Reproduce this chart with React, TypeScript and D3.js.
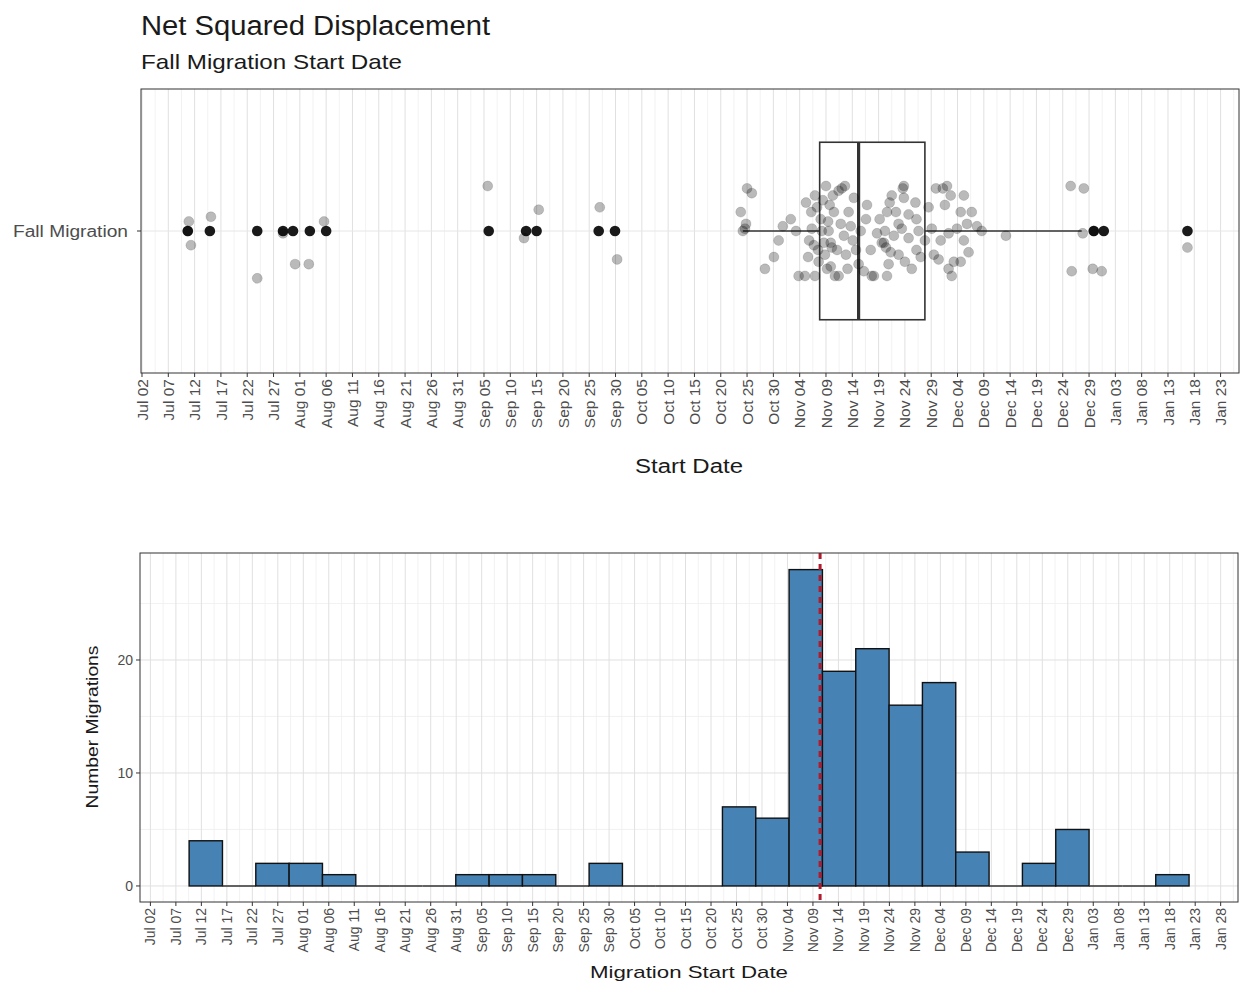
import React from "react";
import * as d3 from "d3";

// ---------------- DATA ----------------
// All days are "days after Jul 02" of the migration season.
// Jittered observations: [day, vertical jitter (category units)]
const jitterPoints: [number, number][] = [
  [8.9, 0.04], [8.7, 0.0], [9.3, -0.06], [13.1, 0.06], [21.9, -0.2], [26.8, -0.01], [29.1, -0.14],
  [31.7, -0.14], [34.6, 0.04], [65.7, 0.19], [72.6, -0.03], [75.4, 0.09], [87.0, 0.1], [90.3, -0.12],
  [115.0, 0.18], [115.9, 0.16], [113.8, 0.08], [114.8, 0.03], [114.2, 0.0], [114.6, 0.01], [118.4, -0.16],
  [120.1, -0.11], [121.8, 0.02], [123.3, 0.05], [124.8, -0.19], [124.3, 0.0], [121.0, -0.04],
  [126.0, -0.19], [126.2, 0.12], [127.2, 0.08], [127.9, 0.15], [129.4, 0.13], [127.9, -0.19], [128.5, -0.08],
  [130.5, 0.0], [130.9, -0.05], [130.9, -0.15], [131.5, 0.08], [129.0, 0.05], [130.0, 0.19], [126.8, -0.04],
  [127.3, 0.01], [128.6, -0.13], [129.8, -0.1], [130.4, 0.04], [131.3, 0.15], [129.2, 0.0], [128.3, 0.1],
  [130.2, -0.16], [131.1, -0.07], [126.6, -0.11], [127.7, -0.06], [131.7, -0.19], [129.6, -0.05], [130.7, 0.11],
  [132.4, 0.17], [133.0, 0.18], [133.6, 0.19], [132.1, -0.08], [133.8, -0.1], [132.4, -0.19], [134.7, 0.02],
  [135.1, -0.04], [132.8, 0.03], [136.2, -0.14], [137.2, -0.17], [137.8, 0.11], [137.6, 0.05], [133.4, -0.02],
  [134.3, 0.08], [135.7, -0.08], [136.6, 0.0], [134.1, -0.16], [135.3, 0.14],
  [138.7, -0.19], [141.6, -0.19], [141.0, -0.05], [141.4, -0.07], [142.3, -0.09], [143.8, -0.1], [142.5, 0.15],
  [142.1, 0.12], [141.6, 0.08], [143.8, 0.03], [144.4, 0.01], [142.9, -0.02], [140.6, -0.05], [139.1, -0.19],
  [139.7, -0.01], [141.9, -0.14], [143.3, 0.08], [140.2, 0.05], [144.6, 0.18], [138.5, -0.08], [141.2, 0.0],
  [144.8, 0.14], [144.8, 0.19], [147.0, 0.12], [145.7, -0.03], [147.2, 0.05], [147.6, 0.0], [145.0, -0.13],
  [146.3, -0.16], [147.2, -0.08], [148.0, -0.11], [149.5, 0.1], [150.9, 0.18], [148.8, -0.04], [150.1, 0.01],
  [145.7, 0.07], [150.5, -0.1],
  [153.0, 0.19], [153.7, 0.15], [156.2, 0.15], [155.6, 0.08], [157.7, 0.08], [151.8, -0.04], [153.3, -0.01],
  [156.2, -0.04], [157.1, -0.09], [151.4, -0.12], [154.3, -0.13], [153.3, -0.16], [153.9, -0.19], [155.6, -0.13],
  [152.2, 0.18], [154.9, 0.01], [156.8, 0.03], [152.6, 0.11],
  [158.7, 0.02], [159.6, 0.0], [164.2, -0.02],
  [176.5, 0.19], [179.0, 0.18], [178.8, -0.01], [176.7, -0.17], [180.7, -0.16], [182.4, -0.17], [180.9, 0.0],
  [198.7, -0.07],
];
// Boxplot statistics: lower whisker, Q1, median, Q3, upper whisker
const boxStats = [114.2, 128.8, 136.2, 148.8, 178.6];
const outlierDays = [8.7, 12.9, 21.9, 26.8, 28.7, 31.9, 35.0, 65.9, 73.0, 75.0, 86.8, 89.9, 180.9, 182.8, 198.7];
const categoryLabel = "Fall Migration";

// Histogram (30 bins)
const binCounts = [4, 0, 2, 2, 1, 0, 0, 0, 1, 1, 1, 0, 2, 0, 0, 0, 7, 6, 28, 19, 21, 16, 18, 3, 0, 2, 5, 0, 0, 1];
const binStartDay = 7.6;
const binWidthDays = 6.54;
const meanDay = 131.4;
const yTicksBottom = [0, 10, 20];

// Tick sets (days after Jul 02, every 5 days)
const topTickDays = d3.range(0, 206, 5);
const bottomTickDays = d3.range(0, 211, 5);

// ---------------- HELPERS ----------------
const BASE = Date.UTC(2019, 6, 2);
const toDate = (d: number) => new Date(BASE + d * 86400000);
const fmt = d3.utcFormat("%b %d");
const FONT = "'Liberation Sans', Arial, Helvetica, sans-serif";

export default function App() {
  const W = 1241, H = 984;

  // Top panel
  const T = { l: 141, r: 1239, t: 89, b: 373 };
  const xT = d3.scaleUtc().domain([toDate(-0.19), toDate(208.5)]).range([T.l, T.r]);
  const yT = d3.scaleLinear().domain([0.4, 1.6]).range([T.b, T.t]);

  // Bottom panel
  const B = { l: 140, r: 1238, t: 553, b: 902 };
  const xB = d3.scaleUtc().domain([toDate(-2.04), toDate(213.4)]).range([B.l, B.r]);
  const yB = d3.scaleLinear().domain([-1.42, 29.47]).range([B.b, B.t]);

  const minorDays = (ticks: number[]) => ticks.map((d) => d + 2.5);
  const [lo, q1, med, q3, hi] = boxStats;
  const yc = yT(1);

  return (
    <svg width={W} height={H} style={{ position: "absolute", left: 0, top: 0, background: "#fff" }} fontFamily={FONT}>
      <rect x={0} y={0} width={W} height={H} fill="#fff" />
      {/* Titles */}
      <text x={141} y={35} fontSize={27} fill="#1a1a1a" textLength={349} lengthAdjust="spacingAndGlyphs">Net Squared Displacement</text>
      <text x={141} y={69} fontSize={21} fill="#1a1a1a" textLength={261} lengthAdjust="spacingAndGlyphs">Fall Migration Start Date</text>

      {/* ---------- TOP PANEL ---------- */}
      <g>
        {[-2.5, ...minorDays(topTickDays)].map((d, i) => {
          const x = xT(toDate(d));
          if (x < T.l || x > T.r) return null;
          return <line key={"tm" + i} x1={x} x2={x} y1={T.t} y2={T.b} stroke="#efefef" strokeWidth={0.8} />;
        })}
        {topTickDays.map((d, i) => (
          <line key={"tg" + i} x1={xT(toDate(d))} x2={xT(toDate(d))} y1={T.t} y2={T.b} stroke="#e0e0e0" strokeWidth={1} />
        ))}
        <line x1={T.l} x2={T.r} y1={yc} y2={yc} stroke="#e6e6e6" strokeWidth={1} />

        {/* whiskers */}
        <line x1={xT(toDate(lo))} x2={xT(toDate(q1))} y1={yc} y2={yc} stroke="#333" strokeWidth={1.6} />
        <line x1={xT(toDate(q3))} x2={xT(toDate(hi))} y1={yc} y2={yc} stroke="#333" strokeWidth={1.6} />
        {/* box */}
        <rect x={xT(toDate(q1))} y={yT(1.375)} width={xT(toDate(q3)) - xT(toDate(q1))} height={yT(0.625) - yT(1.375)}
          fill="#fff" stroke="#333" strokeWidth={1.6} />
        <line x1={xT(toDate(med))} x2={xT(toDate(med))} y1={yT(1.375)} y2={yT(0.625)} stroke="#333" strokeWidth={3.2} />
        {/* outliers */}
        {outlierDays.map((d, i) => (
          <circle key={"o" + i} cx={xT(toDate(d))} cy={yc} r={5.3} fill="#1a1a1a" />
        ))}
        {/* jitter */}
        {jitterPoints.map(([d, j], i) => (
          <circle key={"j" + i} cx={xT(toDate(d))} cy={yT(1 + j)} r={5} fill="#000" fillOpacity={0.27}
            stroke="#000" strokeOpacity={0.12} strokeWidth={1} />
        ))}
        <rect x={T.l} y={T.t} width={T.r - T.l} height={T.b - T.t} fill="none" stroke="#333" strokeWidth={1} />

        {/* y axis */}
        <line x1={T.l - 4} x2={T.l} y1={yc} y2={yc} stroke="#333" />
        <text x={T.l - 13} y={yc} dy="0.35em" textAnchor="end" fontSize={16} fill="#4d4d4d" textLength={115} lengthAdjust="spacingAndGlyphs">{categoryLabel}</text>

        {/* x axis */}
        {topTickDays.map((d, i) => {
          const x = xT(toDate(d));
          return (
            <g key={"tx" + i}>
              <line x1={x} x2={x} y1={T.b} y2={T.b + 4} stroke="#333" />
              <text transform={`translate(${x},${T.b + 6}) rotate(-90)`} dy="0.36em" textAnchor="end" fontSize={15.5} fill="#4d4d4d">
                {fmt(toDate(d))}
              </text>
            </g>
          );
        })}
        <text x={689} y={473} textAnchor="middle" fontSize={20} fill="#1a1a1a" textLength={108} lengthAdjust="spacingAndGlyphs">Start Date</text>
      </g>

      {/* ---------- BOTTOM PANEL ---------- */}
      <g>
        {[-2.5, ...minorDays(bottomTickDays)].map((d, i) => {
          const x = xB(toDate(d));
          if (x < B.l || x > B.r) return null;
          return <line key={"bm" + i} x1={x} x2={x} y1={B.t} y2={B.b} stroke="#efefef" strokeWidth={0.8} />;
        })}
        {[5, 15, 25].map((v) => (
          <line key={"bhm" + v} x1={B.l} x2={B.r} y1={yB(v)} y2={yB(v)} stroke="#efefef" strokeWidth={0.8} />
        ))}
        {bottomTickDays.map((d, i) => (
          <line key={"bg" + i} x1={xB(toDate(d))} x2={xB(toDate(d))} y1={B.t} y2={B.b} stroke="#e0e0e0" strokeWidth={1} />
        ))}
        {yTicksBottom.map((v) => (
          <line key={"bh" + v} x1={B.l} x2={B.r} y1={yB(v)} y2={yB(v)} stroke="#e0e0e0" strokeWidth={1} />
        ))}

        {/* bars (zero-count bins show as a line on the baseline) */}
        {binCounts.map((c, i) => {
          const x0 = xB(toDate(binStartDay + i * binWidthDays));
          const x1 = xB(toDate(binStartDay + (i + 1) * binWidthDays));
          if (c === 0) {
            return <line key={"b" + i} x1={x0} x2={x1} y1={yB(0)} y2={yB(0)} stroke="#333" strokeWidth={1.4} />;
          }
          return (
            <rect key={"b" + i} x={x0} y={yB(c)} width={x1 - x0} height={yB(0) - yB(c)}
              fill="#4682B4" stroke="#111" strokeWidth={1.4} />
          );
        })}
        {/* mean line */}
        <line x1={xB(toDate(meanDay))} x2={xB(toDate(meanDay))} y1={B.t} y2={B.b} stroke="#b01c2e" strokeWidth={3} strokeDasharray="6,5" />

        <rect x={B.l} y={B.t} width={B.r - B.l} height={B.b - B.t} fill="none" stroke="#333" strokeWidth={1} />

        {/* y axis */}
        {yTicksBottom.map((v) => (
          <g key={"by" + v}>
            <line x1={B.l - 4} x2={B.l} y1={yB(v)} y2={yB(v)} stroke="#333" />
            <text x={B.l - 7} y={yB(v)} dy="0.35em" textAnchor="end" fontSize={14} fill="#4d4d4d">{v}</text>
          </g>
        ))}
        <text transform={`translate(98,727) rotate(-90)`} textAnchor="middle" fontSize={17} fill="#1a1a1a" textLength={163} lengthAdjust="spacingAndGlyphs">Number Migrations</text>

        {/* x axis */}
        {bottomTickDays.map((d, i) => {
          const x = xB(toDate(d));
          return (
            <g key={"bx" + i}>
              <line x1={x} x2={x} y1={B.b} y2={B.b + 4} stroke="#333" />
              <text transform={`translate(${x},${B.b + 6}) rotate(-90)`} dy="0.36em" textAnchor="end" fontSize={14} fill="#4d4d4d">
                {fmt(toDate(d))}
              </text>
            </g>
          );
        })}
        <text x={689} y={978} textAnchor="middle" fontSize={17} fill="#1a1a1a" textLength={198} lengthAdjust="spacingAndGlyphs">Migration Start Date</text>
      </g>
    </svg>
  );
}
